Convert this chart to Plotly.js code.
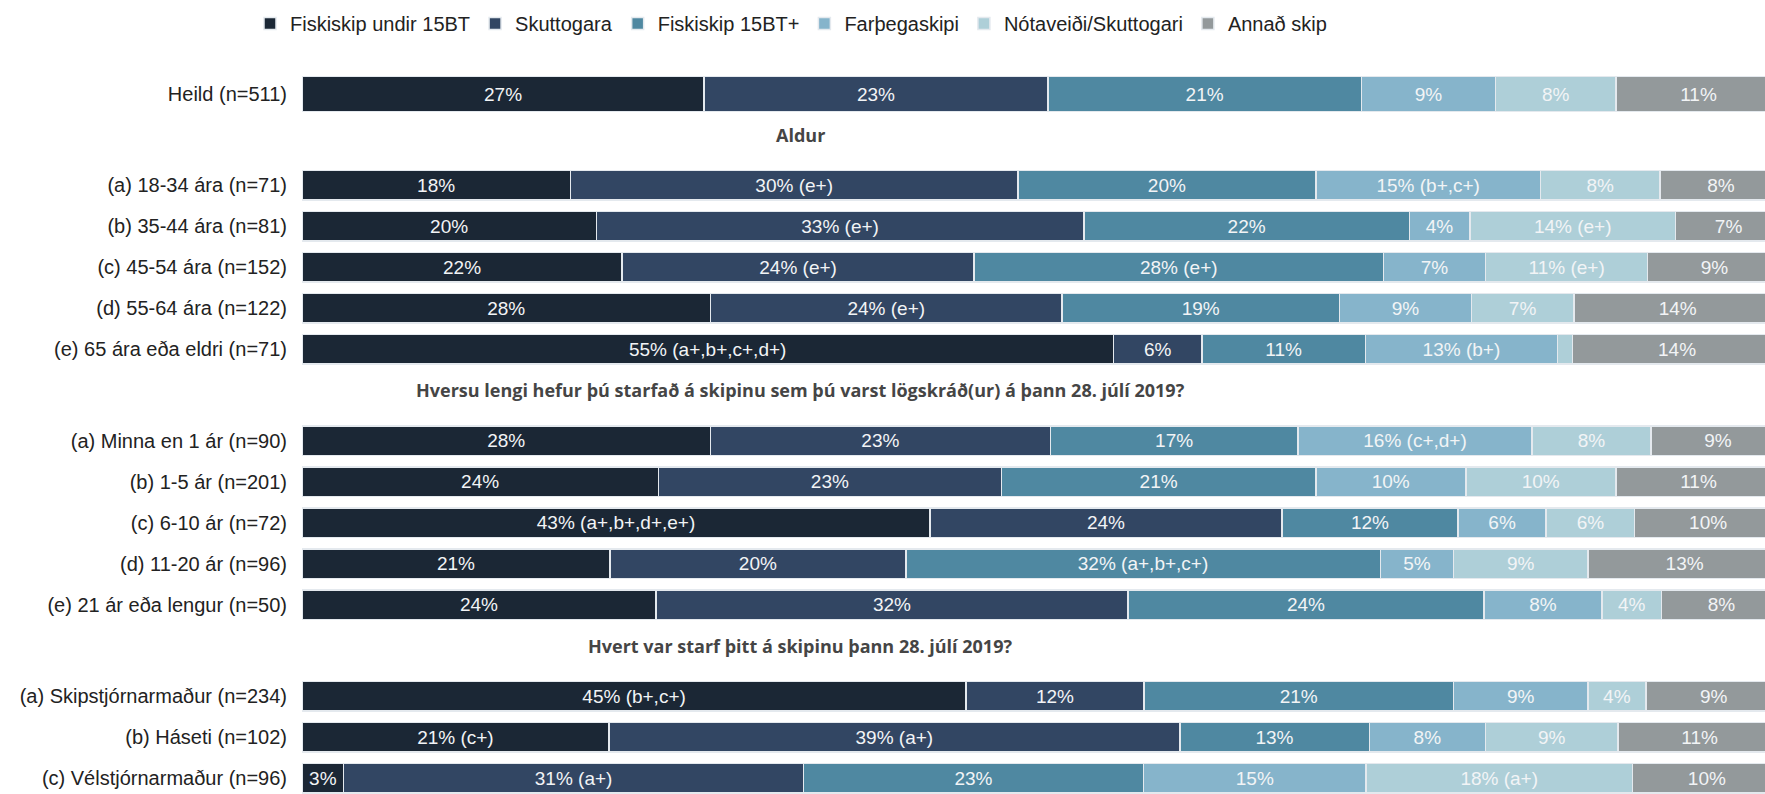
<!DOCTYPE html>
<html>
<head>
<meta charset="utf-8">
<script src="https://cdn.plot.ly/plotly-3.0.1.min.js"></script>
<style>html,body{margin:0;padding:0;background:#fff;}#chart{width:1765px;height:794px;}</style>
</head>
<body>
<div id="chart"></div>
<script>
// ---- Data ----
const rowLabels = [
  'Heild (n=511)',
  '(a) 18-34 ára (n=71)', '(b) 35-44 ára (n=81)', '(c) 45-54 ára (n=152)', '(d) 55-64 ára (n=122)', '(e) 65 ára eða eldri (n=71)',
  '(a) Minna en 1 ár (n=90)', '(b) 1-5 ár (n=201)', '(c) 6-10 ár (n=72)', '(d) 11-20 ár (n=96)', '(e) 21 ár eða lengur (n=50)',
  '(a) Skipstjórnarmaður (n=234)', '(b) Háseti (n=102)', '(c) Vélstjórnarmaður (n=96)'
];
const rowGroup = [0, 1, 1, 1, 1, 1, 2, 2, 2, 2, 2, 3, 3, 3];
const groupHeaders = ['Aldur', 'Hversu lengi hefur þú starfað á skipinu sem þú varst lögskráð(ur) á þann 28. júlí 2019?', 'Hvert var starf þitt á skipinu þann 28. júlí 2019?'];

const seriesNames = ['Fiskiskip undir 15BT', 'Skuttogara', 'Fiskiskip 15BT+', 'Farþegaskipi', 'Nótaveiði/Skuttogari', 'Annað skip'];

const fiskiskipUndir15 = [27.18, 18.14, 19.89, 21.64, 27.61, 54.84, 27.61, 24.08, 42.45, 20.82, 23.93, 44.89, 20.74, 2.82];
const skuttogara       = [23.23, 30.25, 32.96, 23.78, 23.76, 5.99, 22.97, 23.20, 23.79, 19.99, 31.90, 12.01, 38.59, 31.07];
const fiskiskip15Plus  = [21.20, 20.14, 22.00, 27.68, 18.76, 11.05, 16.74, 21.24, 11.90, 32.07, 24.06, 20.94, 12.81, 23.00];
const farthegaskipi    = [9.07, 15.18, 4.08, 6.90, 8.92, 12.97, 15.82, 10.14, 5.95, 4.96, 7.97, 9.07, 7.85, 15.03];
const notaveidi        = [8.12, 8.09, 13.92, 10.95, 6.91, 1.03, 8.04, 10.14, 5.99, 9.07, 4.04, 3.93, 8.96, 18.00];
const annadSkip        = [11.19, 8.21, 7.15, 9.05, 14.05, 14.13, 9.05, 11.19, 9.93, 13.09, 8.10, 9.17, 11.04, 10.08];

const labelsUndir15 = ['27%', '18%', '20%', '22%', '28%', '55% (a+,b+,c+,d+)', '28%', '24%', '43% (a+,b+,d+,e+)', '21%', '24%', '45% (b+,c+)', '21% (c+)', '3%'];
const labelsSkut    = ['23%', '30% (e+)', '33% (e+)', '24% (e+)', '24% (e+)', '6%', '23%', '23%', '24%', '20%', '32%', '12%', '39% (a+)', '31% (a+)'];
const labels15Plus  = ['21%', '20%', '22%', '28% (e+)', '19%', '11%', '17%', '21%', '12%', '32% (a+,b+,c+)', '24%', '21%', '13%', '23%'];
const labelsFarth   = ['9%', '15% (b+,c+)', '4%', '7%', '9%', '13% (b+)', '16% (c+,d+)', '10%', '6%', '5%', '8%', '9%', '8%', '15%'];
const labelsNota    = ['8%', '8%', '14% (e+)', '11% (e+)', '7%', '', '8%', '10%', '6%', '9%', '4%', '4%', '9%', '18% (a+)'];
const labelsAnnad   = ['11%', '8%', '7%', '9%', '14%', '14%', '9%', '11%', '10%', '13%', '8%', '9%', '11%', '10%'];

// ---- Styling / layout ----
const colors = ['#1b2735', '#324663', '#4f88a1', '#86b4cb', '#aecfd8', '#93999b'];
const W = 1765, H = 794;
const FONT = '"Liberation Sans", Arial, sans-serif';
const HEADFONT = '"Open Sans", "Liberation Sans", sans-serif';

// compute row positions (in row units), with header gaps between groups
const yPos = [];
const headerY = [];
rowGroup.forEach((g, i) => {
  if (i === 0) { yPos.push(0); return; }
  const prev = yPos[i - 1];
  if (g !== rowGroup[i - 1]) {
    headerY.push(prev + 1.0);
    yPos.push(prev + 2.23);
  } else {
    yPos.push(prev + 1);
  }
});

const rowPx = 41;          // pixels per row unit
const firstRowPx = 94;     // pixel center of first row
const marginT = 50, marginL = 301.5;
const yTop = -(firstRowPx - marginT) / rowPx;
const yBottom = yTop + (H - marginT) / rowPx;
const barWidths = rowGroup.map(g => g === 0 ? 0.85 : 0.72);

const allValues = [fiskiskipUndir15, skuttogara, fiskiskip15Plus, farthegaskipi, notaveidi, annadSkip];
const allLabels = [labelsUndir15, labelsSkut, labels15Plus, labelsFarth, labelsNota, labelsAnnad];

const traces = seriesNames.map((name, k) => ({
  type: 'bar',
  orientation: 'h',
  name: name,
  x: allValues[k],
  y: yPos,
  width: barWidths,
  text: allLabels[k],
  textposition: 'inside',
  insidetextanchor: 'middle',
  textangle: 0,
  constraintext: 'none',
  textfont: { family: FONT, size: 19, color: '#f2f4f6' },
  marker: { color: colors[k], line: { color: '#e4e9ee', width: 1.5 } },
  hoverinfo: 'skip'
}));

const pxPerPct = 14.8;
const headerCenterPx = 800;
const annotations = groupHeaders.map((t, i) => ({
  text: t,
  xref: 'x', yref: 'y',
  x: (headerCenterPx - marginL) / pxPerPct,
  y: headerY[i],
  showarrow: false,
  xanchor: 'center', yanchor: 'middle',
  font: { family: HEADFONT, size: 18, weight: 700, color: '#454545' }
}));

const layout = {
  width: W, height: H,
  margin: { l: marginL, r: 0, t: marginT, b: 0 },
  paper_bgcolor: '#ffffff', plot_bgcolor: '#ffffff',
  barmode: 'stack',
  bargap: 0,
  showlegend: true,
  legend: {
    orientation: 'h',
    xref: 'container', yref: 'container',
    x: 250 / W, y: 1 - 4 / H,
    xanchor: 'left', yanchor: 'top',
    font: { family: FONT, size: 20, color: '#222222' },
    traceorder: 'normal'
  },
  xaxis: {
    range: [0, (W - marginL) / pxPerPct],
    visible: false, fixedrange: true
  },
  yaxis: {
    range: [yBottom, yTop],
    tickvals: yPos, ticktext: rowLabels,
    showgrid: false, zeroline: false, showline: false,
    ticks: '', ticklabelstandoff: 14,
    tickfont: { family: FONT, size: 20, color: '#222222' },
    fixedrange: true
  },
  annotations: annotations
};

Plotly.newPlot('chart', traces, layout, { staticPlot: true, displayModeBar: false });
</script>
</body>
</html>
